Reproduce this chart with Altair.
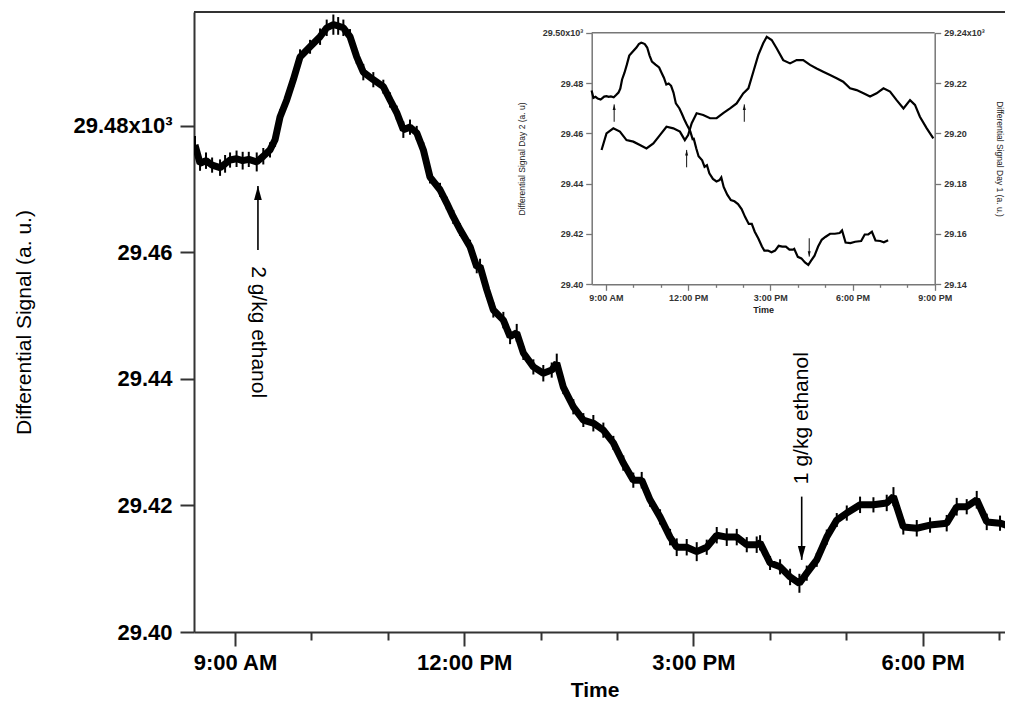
import altair as alt
import pandas as pd

# ---------------- data ----------------
# Day 2 (main chart, also inset left axis): time in hours of day, signal (x10^3)
day2_time = [8.476, 8.542, 8.62, 8.70, 8.804, 8.87, 8.935, 9.02, 9.10, 9.18,
             9.284, 9.37, 9.458, 9.524, 9.589, 9.677, 9.763, 9.851, 9.982, 10.113,
             10.20, 10.287, 10.35, 10.418, 10.505, 10.593, 10.679, 10.81, 10.941, 11.029,
             11.116, 11.203, 11.29, 11.378, 11.465, 11.552, 11.683, 11.771, 11.857, 11.945,
             12.076, 12.164, 12.207, 12.295, 12.381, 12.512, 12.60, 12.687, 12.774, 12.905,
             13.035, 13.145, 13.211, 13.297, 13.428, 13.559, 13.69, 13.821, 13.952, 14.082,
             14.213, 14.323, 14.432, 14.563, 14.694, 14.781, 14.912, 15.043, 15.174, 15.305,
             15.436, 15.567, 15.698, 15.828, 15.872, 16.003, 16.134, 16.265, 16.387, 16.483,
             16.614, 16.745, 16.876, 17.007, 17.181, 17.356, 17.53, 17.618, 17.747, 17.923,
             18.097, 18.315, 18.446, 18.577, 18.708, 18.839, 19.013, 19.144, 19.30]
day2_signal = [29.4770, 29.4741, 29.4745, 29.4738, 29.4734, 29.4740, 29.4746, 29.4748, 29.4745, 29.4747,
               29.4743, 29.4752, 29.4762, 29.4778, 29.4814, 29.4841, 29.4873, 29.4909, 29.4925, 29.4941,
               29.4955, 29.4960, 29.4958, 29.4955, 29.4941, 29.4909, 29.4885, 29.4873, 29.4862, 29.4841,
               29.4821, 29.4794, 29.4798, 29.4789, 29.4762, 29.4719, 29.4699, 29.4678, 29.4656, 29.4636,
               29.4609, 29.4577, 29.4578, 29.4541, 29.4509, 29.4493, 29.4467, 29.4473, 29.4441, 29.4419,
               29.4409, 29.4414, 29.4425, 29.4387, 29.4356, 29.4335, 29.4330, 29.4319, 29.4299, 29.4267,
               29.4240, 29.4240, 29.4209, 29.4182, 29.4150, 29.4134, 29.4134, 29.4127, 29.4134, 29.4153,
               29.4150, 29.4150, 29.4138, 29.4138, 29.4141, 29.4109, 29.4103, 29.4087, 29.4077, 29.4093,
               29.4114, 29.4150, 29.4177, 29.4188, 29.4201, 29.4201, 29.4204, 29.4214, 29.4166, 29.4164,
               29.4169, 29.4172, 29.4198, 29.4198, 29.4209, 29.4174, 29.4172, 29.4167, 29.4175]
# half-height of the noise band around each Day 2 reading
day2_spread = [0.0014, 0.0012, 0.0013, 0.0012, 0.0013, 0.0014, 0.0012, 0.0013, 0.0014, 0.0012,
               0.0015, 0.0013, 0.0012, 0.0011, 0.0012, 0.0010, 0.0011, 0.0012, 0.0011, 0.0013,
               0.0013, 0.0016, 0.0014, 0.0013, 0.0012, 0.0011, 0.0013, 0.0012, 0.0011, 0.0012,
               0.0011, 0.0013, 0.0012, 0.0011, 0.0012, 0.0010, 0.0011, 0.0010, 0.0011, 0.0010,
               0.0011, 0.0010, 0.0012, 0.0011, 0.0012, 0.0013, 0.0012, 0.0014, 0.0011, 0.0012,
               0.0013, 0.0012, 0.0015, 0.0011, 0.0012, 0.0011, 0.0013, 0.0012, 0.0011, 0.0012,
               0.0012, 0.0013, 0.0011, 0.0012, 0.0013, 0.0014, 0.0013, 0.0015, 0.0012, 0.0013,
               0.0014, 0.0013, 0.0012, 0.0013, 0.0012, 0.0011, 0.0012, 0.0013, 0.0015, 0.0012,
               0.0011, 0.0012, 0.0011, 0.0012, 0.0013, 0.0012, 0.0013, 0.0015, 0.0012, 0.0013,
               0.0012, 0.0013, 0.0014, 0.0012, 0.0014, 0.0013, 0.0012, 0.0013, 0.0012]

# Day 1 (inset, right axis)
day1_time = [8.84, 9.02, 9.27, 9.51, 9.75, 10.0, 10.24, 10.48, 10.73, 10.97,
             11.21, 11.46, 11.70, 11.88, 12.0, 12.13, 12.31, 12.55, 12.80, 13.04,
             13.28, 13.53, 13.77, 14.01, 14.20, 14.38, 14.56, 14.74, 14.87, 15.05,
             15.23, 15.47, 15.72, 15.96, 16.20, 16.45, 16.69, 16.93, 17.18, 17.42,
             17.66, 17.91, 18.15, 18.40, 18.64, 18.88, 19.13, 19.37, 19.61, 19.86,
             20.10, 20.28, 20.46, 20.71, 20.95]
day1_signal = [29.1934, 29.2000, 29.2020, 29.2007, 29.1973, 29.1967, 29.1954, 29.1940, 29.1960, 29.1993,
               29.2026, 29.2020, 29.2007, 29.1973, 29.1993, 29.2040, 29.2080, 29.2073, 29.2060, 29.2060,
               29.2080, 29.2099, 29.2119, 29.2159, 29.2179, 29.2245, 29.2311, 29.2358, 29.2384, 29.2371,
               29.2338, 29.2291, 29.2278, 29.2291, 29.2291, 29.2272, 29.2258, 29.2245, 29.2232, 29.2219,
               29.2205, 29.2179, 29.2172, 29.2159, 29.2146, 29.2159, 29.2179, 29.2166, 29.2132, 29.2099,
               29.2132, 29.2113, 29.2066, 29.2020, 29.1980]

# axis domains / ticks
main_x_domain = [8.463, 19.078]
main_y_domain = [29.40, 29.498]
main_hour_ticks = list(range(9, 20))
main_y_ticks = [29.40, 29.42, 29.44, 29.46, 29.48]
inset_x_domain = [8.48, 21.0]
inset_hour_ticks = list(range(9, 22))
inset_left_domain = [29.40, 29.50]
inset_left_ticks = [29.40, 29.42, 29.44, 29.46, 29.48, 29.50]
inset_right_domain = [29.14, 29.24]
inset_right_ticks = [29.14, 29.16, 29.18, 29.20, 29.22, 29.24]

# dose annotations (main chart)
dose_labels = ["2 g/kg ethanol", "1 g/kg ethanol"]
dose_time = [9.30, 16.417]
dose_tip = [29.4705, 29.4114]
dose_tail = [29.4604, 29.4214]
dose_label_at = [29.4474, 29.4338]
dose_dir = ["up", "down"]

# dose arrows in the inset
inset_d2_time = [9.30, 16.42]
inset_d2_tip = [29.4715, 29.4110]
inset_d2_tail = [29.4646, 29.4183]
inset_d2_dir = ["up", "down"]
inset_d1_time = [11.945, 14.05]
inset_d1_tip = [29.1934, 29.2115]
inset_d1_tail = [29.1865, 29.2046]
inset_d1_dir = ["up", "up"]

# ---------------- tables ----------------
d2 = pd.DataFrame({"t": day2_time, "v": day2_signal, "s": day2_spread})
d1 = pd.DataFrame({"t": day1_time, "v": day1_signal})
main_frame = pd.DataFrame({"x0": [main_x_domain[0]], "x1": [main_x_domain[1]], "y": [main_y_domain[1]]})
inset_frame = pd.DataFrame({"x0": [inset_x_domain[0]], "x1": [inset_x_domain[1]], "y": [inset_left_domain[1]]})
doses = pd.DataFrame({"t": dose_time, "tip": dose_tip, "tail": dose_tail,
                      "lab": dose_labels, "ly": dose_label_at, "dir": dose_dir})
in_d2 = pd.DataFrame({"t": inset_d2_time, "tip": inset_d2_tip, "tail": inset_d2_tail, "dir": inset_d2_dir})
in_d1 = pd.DataFrame({"t": inset_d1_time, "tip": inset_d1_tip, "tail": inset_d1_tail, "dir": inset_d1_dir})

# ---------------- layout constants ----------------
W, H = 811, 620
INSET_X_RANGE = [397.7, 740.7]
INSET_Y_RANGE = [272.3, 20.7]
FONT = "Liberation Sans"

UP = "M0,0L0.55,2L-0.55,2Z"
DOWN = "M0,0L0.55,-2L-0.55,-2Z"
shape_scale = alt.Scale(domain=["up", "down"], range=[UP, DOWN])

def sc(domain, rng=None):
    if rng is None:
        return alt.Scale(domain=domain, nice=False, zero=False)
    return alt.Scale(domain=domain, range=rng, nice=False, zero=False)

time_label = ("datum.value % 3 === 0 ? ((datum.value % 12 === 0 ? 12 : datum.value % 12) + ':00 ' + "
              "((datum.value < 12 || datum.value === 24) ? 'AM' : 'PM')) : ''")

main_x_axis = alt.Axis(
    values=main_hour_ticks, labelExpr=time_label, grid=False, orient="bottom",
    tickSize={"condition": {"test": "datum.value % 3 === 0", "value": 14}, "value": 8},
    tickColor="#333", tickWidth=2, domainColor="#333", domainWidth=2,
    labelFont=FONT, labelFontSize=22, labelFontWeight="bold", labelColor="#000",
    labelPadding=6, labelFlush=False, labelOverlap=False,
    title="Time", titleFont=FONT, titleFontSize=21, titleFontWeight="bold", titleColor="#000",
    titleX=W / 2 - 5, titleY=58, titleAlign="center", titleBaseline="middle")

main_y_axis = alt.Axis(
    values=main_y_ticks, grid=False, orient="left",
    labelExpr="abs(datum.value - 29.48) < 1e-6 ? '29.48x10\u00b3' : format(datum.value, '.2f')",
    tickSize=14, tickColor="#333", tickWidth=2, domainColor="#333", domainWidth=2,
    labelFont=FONT, labelFontSize=22, labelFontWeight="bold", labelColor="#000",
    labelPadding=8,
    title="Differential Signal (a. u.)", titleFont=FONT, titleFontSize=21, titleFontWeight="normal",
    titleColor="#000", titleAngle=-90, titleX=-170, titleY=H / 2, titleAlign="center",
    titleBaseline="middle")

inset_x_axis = alt.Axis(
    values=inset_hour_ticks, labelExpr=time_label, grid=False, orient="bottom", offset=-347.7,
    tickSize={"condition": {"test": "datum.value % 3 === 0", "value": 6}, "value": 3},
    tickColor="#777", tickWidth=1.3, domainColor="#777", domainWidth=1.5,
    labelFont=FONT, labelFontSize=9, labelFontWeight="bold", labelColor="#333",
    labelPadding=3, labelFlush=False, labelOverlap=False,
    title="Time", titleFont=FONT, titleFontSize=9, titleFontWeight="bold", titleColor="#222",
    titleX=569.2, titleY=24.7, titleAlign="center", titleBaseline="middle")

inset_left_axis = alt.Axis(
    values=inset_left_ticks, grid=False, orient="left", offset=-397.7,
    labelExpr="abs(datum.value - 29.50) < 1e-6 ? '29.50x10\u00b3' : format(datum.value, '.2f')",
    tickSize=6, tickColor="#777", tickWidth=1.3, domainColor="#777", domainWidth=1.5,
    labelFont=FONT, labelFontSize=9, labelFontWeight="bold", labelColor="#333", labelPadding=3,
    title="Differential Signal Day 2 (a. u)", titleFont=FONT, titleFontSize=8.5,
    titleFontWeight="normal", titleColor="#222", titleAngle=-90, titleX=-70.2, titleY=146.5,
    titleAlign="center", titleBaseline="middle")

inset_right_axis = alt.Axis(
    values=inset_right_ticks, grid=False, orient="right", offset=-70.3,
    labelExpr="abs(datum.value - 29.24) < 1e-6 ? '29.24x10\u00b3' : format(datum.value, '.2f')",
    tickSize=6, tickColor="#777", tickWidth=1.3, domainColor="#777", domainWidth=1.5,
    labelFont=FONT, labelFontSize=9, labelFontWeight="bold", labelColor="#333", labelPadding=3,
    title="Differential Signal Day 1 (a. u.)", titleFont=FONT, titleFontSize=8.5,
    titleFontWeight="normal", titleColor="#222", titleAngle=90, titleX=64.3, titleY=146.5,
    titleAlign="center", titleBaseline="middle")

# ---------------- main chart layers ----------------
main_line = alt.Chart(d2).mark_line(color="#000", strokeWidth=7, clip=True, strokeJoin="bevel").encode(
    x=alt.X("t:Q", scale=sc(main_x_domain), axis=main_x_axis),
    y=alt.Y("v:Q", scale=sc(main_y_domain), axis=main_y_axis),
)

main_noise = alt.Chart(d2).transform_calculate(
    lo="datum.v - datum.s", hi="datum.v + datum.s"
).mark_rule(color="#000", strokeWidth=2, clip=True).encode(
    x=alt.X("t:Q", scale=sc(main_x_domain), axis=None),
    y=alt.Y("lo:Q", scale=sc(main_y_domain), axis=None),
    y2="hi:Q",
)

main_top = alt.Chart(main_frame).mark_rule(color="#333", strokeWidth=2).encode(
    x=alt.X("x0:Q", scale=sc(main_x_domain), axis=None),
    x2="x1:Q",
    y=alt.Y("y:Q", scale=sc(main_y_domain), axis=None),
)

dose_shaft = alt.Chart(doses).mark_rule(color="#000", strokeWidth=1.6).encode(
    x=alt.X("t:Q", scale=sc(main_x_domain), axis=None),
    y=alt.Y("tail:Q", scale=sc(main_y_domain), axis=None),
    y2="tip:Q",
)

dose_head = alt.Chart(doses).mark_point(filled=True, color="#000", opacity=1, size=196, strokeWidth=0).encode(
    x=alt.X("t:Q", scale=sc(main_x_domain), axis=None),
    y=alt.Y("tip:Q", scale=sc(main_y_domain), axis=None),
    shape=alt.Shape("dir:N", scale=shape_scale, legend=None),
)

dose_text_up = alt.Chart(doses).transform_filter("datum.dir === 'up'").mark_text(
    angle=90, font=FONT, fontSize=21, color="#000", align="center", baseline="middle").encode(
    x=alt.X("t:Q", scale=sc(main_x_domain), axis=None),
    y=alt.Y("ly:Q", scale=sc(main_y_domain), axis=None),
    text="lab:N",
)

dose_text_down = alt.Chart(doses).transform_filter("datum.dir === 'down'").mark_text(
    angle=270, font=FONT, fontSize=21, color="#000", align="center", baseline="middle").encode(
    x=alt.X("t:Q", scale=sc(main_x_domain), axis=None),
    y=alt.Y("ly:Q", scale=sc(main_y_domain), axis=None),
    text="lab:N",
)

# ---------------- inset layers ----------------
inset_d2_line = alt.Chart(d2).mark_line(color="#000", strokeWidth=2.2).encode(
    x=alt.X("t:Q", scale=sc(inset_x_domain, INSET_X_RANGE), axis=inset_x_axis),
    y=alt.Y("v:Q", scale=sc(inset_left_domain, INSET_Y_RANGE), axis=inset_left_axis),
)

inset_d1_line = alt.Chart(d1).mark_line(color="#000", strokeWidth=2.2).encode(
    x=alt.X("t:Q", scale=sc(inset_x_domain, INSET_X_RANGE), axis=None),
    y=alt.Y("v:Q", scale=sc(inset_right_domain, INSET_Y_RANGE), axis=inset_right_axis),
)

inset_top = alt.Chart(inset_frame).mark_rule(color="#777", strokeWidth=1.5).encode(
    x=alt.X("x0:Q", scale=sc(inset_x_domain, INSET_X_RANGE), axis=None),
    x2="x1:Q",
    y=alt.Y("y:Q", scale=sc(inset_left_domain, INSET_Y_RANGE), axis=None),
)

def inset_arrows(df, ydom):
    shaft = alt.Chart(df).mark_rule(color="#111", strokeWidth=1).encode(
        x=alt.X("t:Q", scale=sc(inset_x_domain, INSET_X_RANGE), axis=None),
        y=alt.Y("tail:Q", scale=sc(ydom, INSET_Y_RANGE), axis=None),
        y2="tip:Q",
    )
    head = alt.Chart(df).mark_point(filled=True, color="#111", opacity=1, size=30, strokeWidth=0).encode(
        x=alt.X("t:Q", scale=sc(inset_x_domain, INSET_X_RANGE), axis=None),
        y=alt.Y("tip:Q", scale=sc(ydom, INSET_Y_RANGE), axis=None),
        shape=alt.Shape("dir:N", scale=shape_scale, legend=None),
    )
    return [shaft, head]

layers = [main_line, main_noise, main_top, dose_shaft, dose_head, dose_text_up, dose_text_down,
          inset_d2_line, inset_d1_line, inset_top]
layers += inset_arrows(in_d2, inset_left_domain)
layers += inset_arrows(in_d1, inset_right_domain)

chart = alt.layer(*layers).resolve_scale(
    x="independent", y="independent", shape="independent"
).properties(
    width=W, height=H,
    padding={"left": 186, "top": 4, "right": 0, "bottom": 69},
    autosize=alt.AutoSizeParams(type="none"),
    background="white",
).configure_view(stroke=None)

chart.save("out.html", embed_options={"renderer": "svg", "actions": False})
